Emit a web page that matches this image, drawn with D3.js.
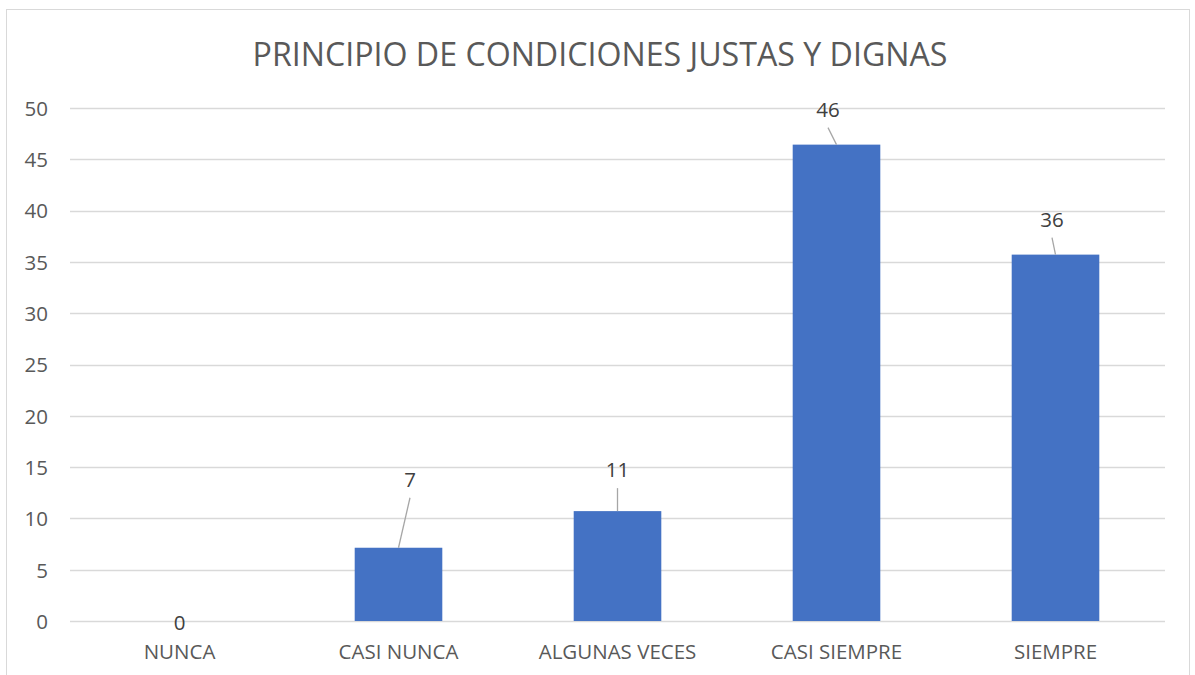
<!DOCTYPE html>
<html><head><meta charset="utf-8">
<script src="https://cdn.jsdelivr.net/npm/d3@7"></script>
<style>
html,body{margin:0;padding:0;background:#fff;overflow:hidden}
text{font-family:"Open Sans",sans-serif}
</style></head>
<body><svg id="c" width="1195" height="675"></svg>
<script>
// ---- data ----
const title = "PRINCIPIO DE CONDICIONES JUSTAS Y DIGNAS";
const categories = ["NUNCA", "CASI NUNCA", "ALGUNAS VECES", "CASI SIEMPRE", "SIEMPRE"];
const values = [0, 7.14, 10.71, 46.43, 35.71];
const yTicks = [0, 5, 10, 15, 20, 25, 30, 35, 40, 45, 50];

// ---- layout / style ----
const W = 1195, H = 675;
const margin = {left: 70, right: 30, top: 108, bottom: 54};
// manual data-label placement (pixel offsets from bar top-center): [dx, dyBaseline, leader?]
const labelOffsets = [[0, 9, false], [11.5, -61, true], [0, -34, true], [-8.5, -28, true], [-3.5, -28, true]];

const svg = d3.select("#c");
svg.append("rect").attr("x", 6.5).attr("y", 9.5).attr("width", 1183).attr("height", 700)
  .attr("fill", "#fff").attr("stroke", "#D9D9D9").attr("stroke-width", 1);

const x = d3.scaleBand().domain(categories).range([margin.left, W - margin.right]).paddingInner(0.6).paddingOuter(0.3);
const y = d3.scaleLinear().domain([0, 50]).range([H - margin.bottom, margin.top]);

// gridlines
svg.append("g").selectAll("line").data(yTicks).join("line")
  .attr("x1", margin.left).attr("x2", W - margin.right)
  .attr("y1", d => Math.round(y(d)) + 0.5).attr("y2", d => Math.round(y(d)) + 0.5)
  .attr("stroke", "#D9D9D9").attr("stroke-width", 1.3);

// y axis labels
const yAxis = d3.axisLeft(y).tickValues(yTicks).tickSize(0).tickPadding(0);
const yg = svg.append("g").attr("transform", `translate(48,0)`).call(yAxis);
yg.select(".domain").remove();
yg.selectAll("text").attr("fill", "#595959").style("font-size", "20.5px").attr("dy", "0.36em");

// bars
svg.append("g").selectAll("rect").data(values).join("rect")
  .attr("x", (d, i) => x(categories[i]))
  .attr("width", x.bandwidth())
  .attr("y", d => y(d))
  .attr("height", d => y(0) - y(d))
  .attr("fill", "#4472C4");

// x axis labels
const xAxis = d3.axisBottom(x).tickSize(0).tickPadding(0);
const xg = svg.append("g").attr("transform", `translate(0,${y(0)})`).call(xAxis);
xg.select(".domain").remove();
xg.selectAll("text").attr("fill", "#595959").style("font-size", "20.5px").attr("dy", null).attr("y", 38);

// data labels with leader lines
const lg = svg.append("g");
values.forEach((v, i) => {
  const cx = x(categories[i]) + x.bandwidth() / 2;
  const top = y(v);
  const [dx, dy, leader] = labelOffsets[i];
  if (leader) {
    lg.append("line").attr("x1", cx).attr("y1", top)
      .attr("x2", cx + dx).attr("y2", top + dy + 11)
      .attr("stroke", "#A6A6A6").attr("stroke-width", 1.3);
  }
  lg.append("text").attr("x", cx + dx).attr("y", top + dy).attr("text-anchor", "middle")
    .attr("fill", "#404040").style("font-size", "20.5px").text(d3.format(".0f")(v));
});

// title
const t = svg.append("text").attr("x", 600).attr("y", 66).attr("text-anchor", "middle")
  .attr("fill", "#595959").style("font-size", "30px").text(title);
const tw = t.node().getComputedTextLength();
t.style("font-size", (30 * 695 / tw) + "px");
</script></body></html>
